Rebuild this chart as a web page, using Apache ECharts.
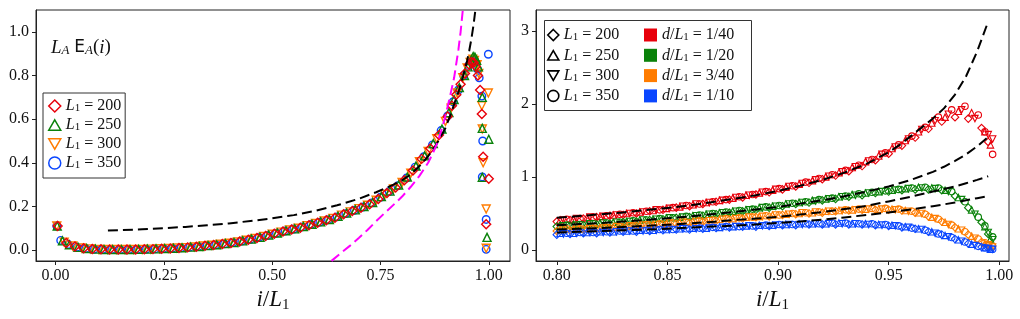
<!DOCTYPE html>
<html><head><meta charset="utf-8">
<script src="https://cdn.jsdelivr.net/npm/echarts@6/dist/echarts.min.js"></script>
<style>html,body{margin:0;padding:0;background:#fff}#c{width:1020px;height:319px}</style>
</head><body><div id="c"></div>
<script>
// ---------- LEFT PANEL DATA : [i/L1, L_A E_A(i)] ----------
const left200 = [[0.005,0.11],[0.025,0.032],[0.045,0.016],[0.065,0.008],[0.085,0.005],[0.105,0.003],[0.125,0.002],[0.145,0.002],[0.165,0.002],[0.185,0.002],[0.205,0.003],[0.225,0.004],[0.245,0.006],[0.265,0.007],[0.285,0.009],[0.305,0.012],[0.325,0.015],[0.345,0.019],[0.365,0.023],[0.385,0.027],[0.405,0.032],[0.425,0.039],[0.445,0.047],[0.465,0.055],[0.485,0.064],[0.505,0.074],[0.525,0.085],[0.545,0.094],[0.565,0.102],[0.585,0.114],[0.605,0.125],[0.625,0.136],[0.645,0.148],[0.665,0.164],[0.685,0.179],[0.705,0.194],[0.725,0.210],[0.745,0.234],[0.765,0.261],[0.785,0.287],[0.805,0.320],[0.825,0.365],[0.845,0.418],[0.865,0.466],[0.885,0.527],[0.905,0.612],[0.915,0.662],[0.925,0.712],[0.935,0.760],[0.945,0.810],[0.955,0.850],[0.960,0.862],[0.965,0.860],[0.970,0.842],[0.975,0.800],[0.980,0.734],[0.984,0.624],[0.987,0.428],[1.000,0.327],[0.994,0.118]];
const left250 = [[0.004,0.11],[0.016,0.042],[0.032,0.024],[0.052,0.012],[0.072,0.007],[0.092,0.004],[0.112,0.002],[0.132,0.002],[0.152,0.002],[0.172,0.002],[0.192,0.003],[0.212,0.004],[0.232,0.005],[0.252,0.007],[0.272,0.008],[0.292,0.010],[0.312,0.013],[0.332,0.016],[0.352,0.020],[0.372,0.024],[0.392,0.029],[0.412,0.034],[0.432,0.042],[0.452,0.050],[0.472,0.058],[0.492,0.068],[0.512,0.078],[0.532,0.088],[0.552,0.097],[0.572,0.107],[0.592,0.118],[0.612,0.129],[0.632,0.140],[0.652,0.154],[0.672,0.169],[0.692,0.184],[0.712,0.199],[0.732,0.218],[0.752,0.245],[0.772,0.270],[0.792,0.298],[0.812,0.335],[0.832,0.385],[0.852,0.432],[0.872,0.488],[0.892,0.555],[0.908,0.630],[0.920,0.690],[0.932,0.745],[0.944,0.800],[0.952,0.840],[0.960,0.872],[0.964,0.887],[0.968,0.885],[0.972,0.870],[0.976,0.840],[0.985,0.700],[0.985,0.558],[1.000,0.508],[0.985,0.333],[0.996,0.058]];
const left300 = [[0.003,0.11],[0.020,0.036],[0.040,0.018],[0.060,0.009],[0.080,0.005],[0.100,0.003],[0.120,0.002],[0.140,0.002],[0.160,0.002],[0.180,0.002],[0.200,0.003],[0.220,0.004],[0.240,0.006],[0.260,0.007],[0.280,0.009],[0.300,0.011],[0.320,0.014],[0.340,0.018],[0.360,0.022],[0.380,0.026],[0.400,0.031],[0.420,0.037],[0.440,0.045],[0.460,0.053],[0.480,0.062],[0.500,0.072],[0.520,0.082],[0.540,0.092],[0.560,0.100],[0.580,0.111],[0.600,0.122],[0.620,0.133],[0.640,0.145],[0.660,0.160],[0.680,0.175],[0.700,0.190],[0.720,0.205],[0.740,0.228],[0.760,0.255],[0.780,0.280],[0.800,0.310],[0.820,0.352],[0.840,0.405],[0.860,0.452],[0.880,0.510],[0.900,0.590],[0.913,0.650],[0.927,0.720],[0.940,0.790],[0.950,0.835],[0.957,0.860],[0.963,0.875],[0.967,0.870],[0.973,0.850],[0.977,0.810],[0.999,0.720],[0.984,0.662],[0.985,0.555],[0.987,0.400],[0.994,0.188],[0.994,0.008]];
const left350 = [[0.003,0.11],[0.012,0.044],[0.030,0.025],[0.050,0.013],[0.070,0.007],[0.090,0.004],[0.110,0.003],[0.130,0.002],[0.150,0.002],[0.170,0.002],[0.190,0.003],[0.210,0.004],[0.230,0.005],[0.250,0.007],[0.270,0.008],[0.290,0.010],[0.310,0.013],[0.330,0.016],[0.350,0.020],[0.370,0.024],[0.390,0.028],[0.410,0.034],[0.430,0.041],[0.450,0.049],[0.470,0.058],[0.490,0.067],[0.510,0.077],[0.530,0.087],[0.550,0.096],[0.570,0.106],[0.590,0.117],[0.610,0.128],[0.630,0.139],[0.650,0.152],[0.670,0.167],[0.690,0.182],[0.710,0.197],[0.730,0.216],[0.750,0.242],[0.770,0.268],[0.790,0.295],[0.810,0.330],[0.830,0.380],[0.850,0.428],[0.870,0.482],[0.890,0.548],[0.905,0.615],[0.918,0.680],[0.930,0.734],[0.942,0.800],[0.953,0.845],[0.962,0.870],[0.966,0.875],[0.970,0.860],[0.974,0.830],[0.978,0.790],[0.999,0.898],[0.984,0.706],[0.986,0.500],[0.985,0.335],[0.994,0.140],[0.994,0.003]];
const leftBlackDash = [[0.121,0.089],[0.15,0.091],[0.20,0.095],[0.25,0.100],[0.30,0.106],[0.35,0.113],[0.40,0.122],[0.45,0.133],[0.50,0.145],[0.55,0.160],[0.60,0.180],[0.65,0.205],[0.70,0.235],[0.74,0.265],[0.78,0.300],[0.80,0.320],[0.82,0.347],[0.84,0.385],[0.86,0.430],[0.88,0.487],[0.90,0.560],[0.91,0.612],[0.92,0.668],[0.93,0.725],[0.94,0.790],[0.95,0.868],[0.955,0.915],[0.96,0.970],[0.965,1.035],[0.969,1.100]];
const leftMagentaDash = [[0.637,-0.05],[0.66,-0.012],[0.68,0.020],[0.70,0.055],[0.72,0.092],[0.74,0.132],[0.76,0.170],[0.78,0.207],[0.80,0.245],[0.82,0.290],[0.84,0.340],[0.86,0.400],[0.87,0.440],[0.88,0.485],[0.89,0.545],[0.90,0.615],[0.91,0.700],[0.92,0.790],[0.93,0.920],[0.935,1.000],[0.940,1.100]];

// ---------- RIGHT PANEL DATA : x = i/L1 ----------
const xs200 = [0.800,0.806,0.812,0.818,0.824,0.830,0.836,0.842,0.848,0.854,0.860,0.866,0.872,0.878,0.884,0.890,0.896,0.902,0.908,0.914,0.920,0.926,0.932,0.938,0.944,0.950,0.956,0.962,0.968,0.974,0.980,0.986,0.992,0.995];
const xs250 = [0.8015,0.8075,0.8135,0.8195,0.8255,0.8315,0.8375,0.8435,0.8495,0.8555,0.8615,0.8675,0.8735,0.8795,0.8855,0.8915,0.8975,0.9035,0.9095,0.9155,0.9215,0.9275,0.9335,0.9395,0.9455,0.9515,0.9575,0.9635,0.9695,0.9755,0.9815,0.9875,0.9935,0.996];
const xs300 = [0.803,0.809,0.815,0.821,0.827,0.833,0.839,0.845,0.851,0.857,0.863,0.869,0.875,0.881,0.887,0.893,0.899,0.905,0.911,0.917,0.923,0.929,0.935,0.941,0.947,0.953,0.959,0.965,0.971,0.977,0.983,0.989,0.995,0.997];
const xs350 = [0.8045,0.8105,0.8165,0.8225,0.8285,0.8345,0.8405,0.8465,0.8525,0.8585,0.8645,0.8705,0.8765,0.8825,0.8885,0.8945,0.9005,0.9065,0.9125,0.9185,0.9245,0.9305,0.9365,0.9425,0.9485,0.9545,0.9605,0.9665,0.9725,0.9785,0.9845,0.9905,0.9935,0.997];

const red200 = [.39,.41,.43,.45,.47,.48,.50,.53,.55,.58,.60,.63,.66,.69,.72,.76,.79,.83,.87,.92,.97,1.02,1.08,1.15,1.23,1.32,1.43,1.54,1.66,1.76,1.82,1.80,1.67,1.48];
const red250 = [.41,.42,.44,.46,.48,.50,.52,.54,.57,.59,.62,.65,.68,.71,.75,.78,.82,.86,.90,.95,1.00,1.06,1.13,1.21,1.29,1.39,1.50,1.62,1.74,1.82,1.90,1.88,1.62,1.44];
const red300 = [.41,.43,.45,.46,.48,.50,.52,.55,.57,.60,.63,.65,.68,.72,.75,.79,.83,.87,.91,.96,1.01,1.07,1.14,1.22,1.31,1.41,1.52,1.65,1.77,1.86,1.92,1.80,1.58,1.52];
const red350 = [.42,.43,.45,.47,.49,.51,.53,.55,.58,.61,.63,.66,.69,.73,.76,.80,.84,.88,.93,.98,1.03,1.09,1.16,1.24,1.33,1.44,1.56,1.68,1.82,1.92,1.97,1.85,1.62,1.31];
const green200 = [.32,.33,.34,.35,.36,.38,.39,.41,.42,.44,.45,.47,.49,.51,.53,.55,.58,.60,.63,.65,.68,.70,.73,.75,.78,.80,.82,.83,.83,.82,.74,.58,.38,.22];
const green250 = [.34,.35,.35,.37,.38,.39,.41,.42,.44,.45,.47,.49,.51,.53,.55,.58,.60,.63,.65,.68,.70,.73,.76,.78,.80,.82,.84,.86,.85,.82,.72,.55,.32,.15];
const green300 = [.33,.34,.36,.37,.38,.39,.41,.42,.44,.45,.47,.49,.51,.53,.55,.58,.60,.63,.65,.67,.70,.73,.75,.78,.80,.82,.84,.85,.84,.80,.69,.49,.24,.14];
const green350 = [.34,.35,.36,.37,.38,.40,.41,.43,.44,.46,.48,.50,.52,.54,.56,.59,.61,.64,.66,.69,.71,.74,.77,.79,.81,.83,.85,.86,.85,.80,.66,.45,.33,.18];
const orange200 = [.26,.27,.28,.29,.30,.31,.33,.34,.35,.36,.37,.39,.40,.42,.43,.45,.46,.48,.49,.50,.51,.53,.54,.55,.55,.55,.54,.51,.46,.39,.31,.21,.11,.07];
const orange250 = [.28,.29,.30,.30,.31,.33,.34,.35,.36,.38,.39,.40,.42,.43,.45,.46,.48,.49,.50,.51,.53,.54,.55,.56,.56,.56,.54,.51,.45,.38,.29,.19,.09,.05];
const orange300 = [.27,.28,.29,.30,.32,.33,.34,.35,.37,.38,.39,.40,.42,.43,.45,.46,.48,.49,.51,.52,.53,.54,.55,.56,.56,.55,.53,.50,.43,.35,.27,.16,.07,.04];
const orange350 = [.29,.29,.30,.31,.32,.33,.35,.36,.37,.38,.40,.41,.43,.44,.45,.47,.48,.50,.51,.52,.53,.55,.56,.57,.57,.56,.53,.49,.42,.34,.25,.15,.10,.05];
const blue200 = [.21,.22,.23,.23,.24,.25,.25,.26,.27,.28,.28,.29,.30,.31,.32,.32,.33,.34,.34,.35,.35,.35,.35,.35,.34,.33,.31,.29,.25,.21,.15,.09,.04,.02];
const blue250 = [.23,.23,.24,.25,.25,.26,.27,.27,.28,.29,.30,.30,.31,.32,.33,.34,.34,.35,.36,.36,.36,.37,.36,.36,.35,.34,.32,.29,.25,.20,.14,.08,.03,.01];
const blue300 = [.22,.23,.24,.24,.25,.26,.26,.27,.28,.29,.29,.30,.31,.32,.33,.33,.34,.35,.35,.36,.36,.36,.36,.35,.34,.33,.31,.28,.23,.18,.12,.06,.02,.01];
const blue350 = [.23,.24,.24,.25,.26,.26,.27,.28,.28,.29,.30,.31,.32,.32,.33,.34,.35,.35,.36,.36,.37,.37,.36,.36,.35,.33,.30,.27,.22,.17,.11,.05,.03,.01];

const dash1 = [[0.80,0.44],[0.81,0.465],[0.82,0.49],[0.83,0.515],[0.84,0.545],[0.85,0.575],[0.86,0.61],[0.87,0.655],[0.88,0.70],[0.89,0.75],[0.90,0.81],[0.91,0.88],[0.92,0.96],[0.93,1.06],[0.94,1.18],[0.95,1.34],[0.955,1.44],[0.96,1.56],[0.965,1.68],[0.97,1.80],[0.975,1.94],[0.98,2.13],[0.985,2.38],[0.99,2.72],[0.995,3.13]];
const dash2 = [[0.80,0.34],[0.81,0.355],[0.82,0.37],[0.83,0.39],[0.84,0.41],[0.85,0.435],[0.86,0.46],[0.87,0.49],[0.88,0.52],[0.89,0.555],[0.90,0.59],[0.91,0.635],[0.92,0.68],[0.93,0.735],[0.94,0.80],[0.95,0.87],[0.96,0.96],[0.97,1.07],[0.975,1.14],[0.98,1.22],[0.985,1.31],[0.99,1.42],[0.995,1.55]];
const dash3 = [[0.80,0.28],[0.81,0.29],[0.82,0.30],[0.83,0.315],[0.84,0.33],[0.85,0.345],[0.86,0.365],[0.87,0.385],[0.88,0.41],[0.89,0.43],[0.90,0.455],[0.91,0.485],[0.92,0.52],[0.93,0.56],[0.94,0.605],[0.95,0.665],[0.96,0.73],[0.97,0.80],[0.98,0.87],[0.985,0.915],[0.99,0.96],[0.995,1.01]];
const dash4 = [[0.80,0.24],[0.81,0.25],[0.82,0.26],[0.83,0.27],[0.84,0.28],[0.85,0.29],[0.86,0.305],[0.87,0.32],[0.88,0.335],[0.89,0.35],[0.90,0.37],[0.91,0.39],[0.92,0.415],[0.93,0.445],[0.94,0.48],[0.95,0.515],[0.96,0.555],[0.97,0.60],[0.98,0.65],[0.985,0.68],[0.99,0.71],[0.995,0.74]];

// tick labels
const leftXTicks = [0, 0.25, 0.5, 0.75, 1.0];
const leftYTicks = [0, 0.2, 0.4, 0.6, 0.8, 1.0];
const rightXTicks = [0.80, 0.85, 0.90, 0.95, 1.00];
const rightYTicks = [0, 1, 2, 3];
const L1s = ['200', '250', '300', '350'];
const dRatios = ['1/40', '1/20', '3/40', '1/10'];

// ---------- STYLE ----------
const FONT = 'Liberation Serif';
const RED = '#e8000b', GREEN = '#0a820a', ORANGE = '#ff7c00', BLUE = '#0a46ff';
const TXT = '#111';
const DOWN = 'path://M0,0 L20,0 L10,17.3 Z';
const UP = 'path://M10,0 L20,17.3 L0,17.3 Z';
const shapes = {'200': 'diamond', '250': UP, '300': DOWN, '350': 'circle'};
const richBase = {
  it: {fontFamily: FONT, fontStyle: 'italic', fontWeight: 'normal', fontSize: 16, color: TXT, lineHeight: 16},
  n: {fontFamily: FONT, fontWeight: 'normal', fontSize: 16, color: TXT, lineHeight: 16},
  sub: {fontFamily: FONT, fontWeight: 'normal', fontSize: 11, color: TXT, lineHeight: 8, verticalAlign: 'bottom'}
};
const richBig = {
  it: {fontFamily: FONT, fontStyle: 'italic', fontWeight: 'normal', fontSize: 23, color: TXT, lineHeight: 24},
  n: {fontFamily: FONT, fontWeight: 'normal', fontSize: 23, color: TXT, lineHeight: 24},
  sub: {fontFamily: FONT, fontWeight: 'normal', fontSize: 15, color: TXT, lineHeight: 12, verticalAlign: 'bottom'}
};
const axisNameText = '{it|i}{n|/}{it|L}{sub|1}';
const DASH = [10, 5];

function hollow(c, w) { return {color: 'rgba(0,0,0,0)', borderColor: c, borderWidth: w, opacity: 1}; }
function zip(xs, ys) { return xs.map((x, k) => [x, ys[k]]); }
function dashLine(grid, data, color) {
  return {type: 'line', xAxisIndex: grid, yAxisIndex: grid, data: data, showSymbol: false, smooth: false,
    lineStyle: {color: color, width: 2, type: DASH, cap: 'butt', join: 'round'}, z: 3, emphasis: {disabled: true}};
}

const series = [];
// left panel scatter (350 drawn first so 200 ends on top)
const leftSets = [['a350', left350, BLUE, 'circle', 7.5], ['a300', left300, ORANGE, DOWN, 8], ['a250', left250, GREEN, UP, 8], ['a200', left200, RED, 'diamond', 9]];
leftSets.forEach(s => series.push({
  name: s[0], type: 'scatter', xAxisIndex: 0, yAxisIndex: 0, data: s[1],
  symbol: s[3], symbolSize: s[4], itemStyle: hollow(s[2], 1.4), z: 2, emphasis: {disabled: true}
}));
series.push(dashLine(0, leftBlackDash, '#000'));
series.push(dashLine(0, leftMagentaDash, '#ff00ff'));

// right panel scatter
const rightSets = [
  [RED, [red200, red250, red300, red350]],
  [GREEN, [green200, green250, green300, green350]],
  [ORANGE, [orange200, orange250, orange300, orange350]],
  [BLUE, [blue200, blue250, blue300, blue350]]
];
const xsBy = {'200': xs200, '250': xs250, '300': xs300, '350': xs350};
rightSets.forEach(cs => {
  L1s.forEach((L, k) => series.push({
    type: 'scatter', xAxisIndex: 1, yAxisIndex: 1, data: zip(xsBy[L], cs[1][k]),
    symbol: shapes[L], symbolSize: L === '200' ? 7.5 : 6.5, itemStyle: hollow(cs[0], 1.1), z: 2, emphasis: {disabled: true}
  }));
});
[dash1, dash2, dash3, dash4].forEach(d => series.push(dashLine(1, d, '#000')));

// legend dummy series (right panel)
L1s.forEach(L => series.push({name: 'b' + L, type: 'scatter', xAxisIndex: 1, yAxisIndex: 1, data: [], symbol: shapes[L], itemStyle: hollow('#000', 1.6)}));
const sqColors = [RED, GREEN, ORANGE, BLUE];
dRatios.forEach((d, k) => series.push({name: 'c' + k, type: 'scatter', xAxisIndex: 1, yAxisIndex: 1, data: [], symbol: 'rect', itemStyle: {color: sqColors[k], opacity: 1}}));

function xAxisCfg(grid, min, max, ticks, dec) {
  return {
    type: 'value', gridIndex: grid, min: min, max: max,
    axisLine: {show: true, onZero: false, lineStyle: {color: '#222', width: 1}},
    axisTick: {show: true, customValues: ticks, length: 4, lineStyle: {color: '#222'}},
    axisLabel: {customValues: ticks, formatter: v => v.toFixed(dec), fontFamily: FONT, fontSize: 16, color: TXT, margin: 7},
    splitLine: {show: false},
    name: axisNameText, nameLocation: 'middle', nameGap: 27, nameTextStyle: {rich: richBig}
  };
}
function yAxisCfg(grid, min, max, ticks, dec) {
  return {
    type: 'value', gridIndex: grid, min: min, max: max,
    axisLine: {show: true, onZero: false, lineStyle: {color: '#222', width: 1}},
    axisTick: {show: true, customValues: ticks, length: 4, lineStyle: {color: '#222'}},
    axisLabel: {customValues: ticks, formatter: v => v.toFixed(dec), fontFamily: FONT, fontSize: 16, color: TXT, margin: 7},
    splitLine: {show: false}
  };
}

const leftLegendItems = [['a200', 'diamond', RED], ['a250', UP, GREEN], ['a300', DOWN, ORANGE], ['a350', 'circle', BLUE]];

const option = {
  animation: false,
  backgroundColor: '#fff',
  grid: [
    {left: 36, top: 10, width: 474, height: 251, show: true, borderColor: '#222', borderWidth: 1, backgroundColor: 'transparent'},
    {left: 536, top: 10, width: 473, height: 251, show: true, borderColor: '#222', borderWidth: 1, backgroundColor: 'transparent'}
  ],
  xAxis: [xAxisCfg(0, -0.045, 1.049, leftXTicks, 2), xAxisCfg(1, 0.7906, 1.0044, rightXTicks, 2)],
  yAxis: [yAxisCfg(0, -0.0505, 1.101, leftYTicks, 1), yAxisCfg(1, -0.151, 3.288, rightYTicks, 0)],
  title: {
    text: '{it|L}{sub|A}{n| }{sf|E}{sub|A}{n|(}{it|i}{n|)}',
    left: 46, top: 33,
    textStyle: {fontWeight: 'normal', rich: {
      it: {fontFamily: FONT, fontStyle: 'italic', fontWeight: 'normal', fontSize: 19, color: TXT, lineHeight: 19},
      n: {fontFamily: FONT, fontWeight: 'normal', fontSize: 19, color: TXT, lineHeight: 19},
      sf: {fontFamily: 'DejaVu Sans', fontWeight: 'normal', fontSize: 17, color: TXT, lineHeight: 19},
      sub: {fontFamily: FONT, fontStyle: 'italic', fontWeight: 'normal', fontSize: 13, color: TXT, lineHeight: 10, verticalAlign: 'bottom'}
    }}
  },
  legend: [
    {
      left: 43, top: 93, orient: 'vertical', padding: [5, 4, 7, 5], itemGap: 3, itemWidth: 12, itemHeight: 12,
      borderColor: '#333', borderWidth: 1, borderRadius: 0, backgroundColor: '#fff', selectedMode: false,
      data: leftLegendItems.map(d => ({name: d[0], icon: d[1], itemStyle: hollow(d[2], 1.5)})),
      formatter: name => '{it|L}{sub|1}{n| = ' + name.slice(1) + '}',
      textStyle: {rich: richBase}
    },
    {
      left: 542, top: 18, orient: 'vertical', padding: [9, 4, 7, 5], itemGap: 4.3, itemWidth: 11, itemHeight: 11,
      selectedMode: false,
      data: L1s.map(L => ({name: 'b' + L, icon: shapes[L], itemStyle: hollow('#000', 1.6)})),
      formatter: name => '{it|L}{sub|1}{n| = ' + name.slice(1) + '}',
      textStyle: {rich: richBase}
    },
    {
      left: 639, top: 18, orient: 'vertical', padding: [9, 4, 7, 5], itemGap: 4.3, itemWidth: 13, itemHeight: 13,
      selectedMode: false,
      data: dRatios.map((d, k) => ({name: 'c' + k, icon: 'rect', itemStyle: {color: sqColors[k], opacity: 1}})),
      formatter: name => '{it|d}{n|/}{it|L}{sub|1}{n| = ' + dRatios[+name.slice(1)] + '}',
      textStyle: {rich: richBase}
    }
  ],
  graphic: [{type: 'rect', left: 542, top: 18, shape: {width: 207, height: 90}, style: {fill: 'none', stroke: '#333', lineWidth: 1}, z: 10}],
  series: series
};

const chart = echarts.init(document.getElementById('c'), null, {renderer: 'canvas'});
chart.setOption(option);
</script>
</body></html>
